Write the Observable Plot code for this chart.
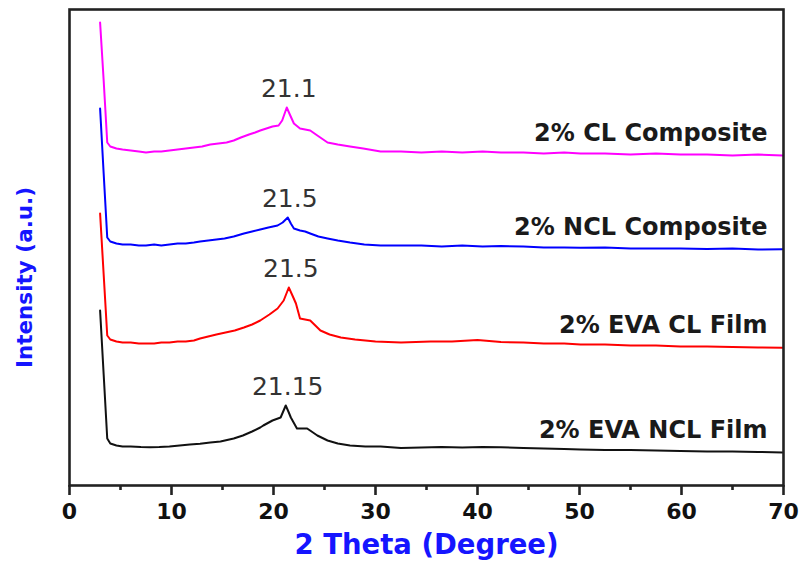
<!DOCTYPE html>
<html><head><meta charset="utf-8">
<script src="https://cdn.jsdelivr.net/npm/d3@7"></script>
<script src="https://cdn.jsdelivr.net/npm/@observablehq/plot@0.6"></script>
<style>body{margin:0;background:#fff}</style>
</head><body><div id="chart"></div>
<script>
const xTitle = "2 Theta (Degree)";
const yTitle = "Intensity (a.u.)";
const xTicksMajor = [0, 10, 20, 30, 40, 50, 60, 70];
const xTicksMinor = [5, 15, 25, 35, 45, 55, 65];

const seriesNames = ["2% EVA NCL Film", "2% EVA CL Film", "2% NCL Composite", "2% CL Composite"];
const seriesColors = ["#111111", "#ff0000", "#0000ff", "#ff00ff"];
const peakLabels = ["21.15", "21.5", "21.5", "21.1"];

const eclfTheta = [3.0,3.35,3.7,4.0,4.6,5.2,6.0,7.0,7.9,8.8,9.8,10.8,11.8,12.8,13.8,14.8,16.1,17.0,17.9,18.7,19.0,19.9,20.7,21.2,21.5,21.7,22.3,22.8,23.3,24.3,25.3,26.3,27.5,29,30.5,32.5,34.5,36.5,38.5,40.5,42.3,44.5,46.5,48.5,50.1,52.5,55,57.5,59.9,62.5,65,67.5,69.9];
const eclfI = [175,111,47,42,40,39,39,38.5,38.3,38.5,39,40,41,41.7,43,44,47,50,54,58,60,65,68,80,73,68,57,57,57,50,45,42,40,39,39,37.5,38,38.5,38,38.5,38.3,37.5,37,36.5,36,35.5,35.5,35,34.5,34,34,33.5,33];

const eclTheta = [3.0,3.35,3.7,4.0,4.6,5.2,6.0,6.8,7.5,8.3,9.0,9.8,10.6,11.4,12.2,12.8,13.6,14.4,15.3,16.2,17.1,17.9,18.7,19.6,20.4,21.0,21.5,21.9,22.2,22.6,23.1,23.6,24.1,24.6,25.5,26.6,28,30,32.5,35.4,37.5,40.0,42.3,44.5,46.5,48.5,50.1,52.5,55,57.5,59.9,62.5,65,67.5,69.9];
const eclI = [272,211,150,146,144,143,143,142,142,142,143,143,144,144,145,147,149,151,153,155,158,161,165,171,177,185,198,189,182,167,166,165,160,155,151,148,146,144,143,144,144,145.5,143.5,143,142,142,141,141,140,140,139,139,138.5,138,137.7];

const nclcTheta = [3.0,3.35,3.7,4.0,4.6,5.2,6.0,6.8,7.5,8.3,9.0,9.8,10.6,11.4,12.2,12.8,13.6,14.4,15.2,16.1,17.1,17.9,18.7,19.5,20.4,20.9,21.4,21.7,22.0,22.6,23.1,23.6,24.4,25.3,26.3,27.5,28.9,30.5,32.5,34.5,36.5,38.5,40.5,42.3,44.5,46.5,48.5,50.1,52.5,55,57.5,59.9,62.5,65,67.5,69.9];
const nclcI = [377,312,248,244,242,241,241,240,240,241,240,241,242,242,243,244,245,246,247,249,252,254,256,258,260,263,268,262,257,255,254,252,249,247,245,243,241,240,240,240,239,240,239,239.5,239,238,238,237.7,238,237,237,237,236.5,237,236,236.3];

const clcTheta = [3.0,3.35,3.7,4.0,4.6,5.2,6.0,6.8,7.5,8.3,9.0,9.8,10.6,11.4,12.2,13.0,13.8,14.6,15.4,16.1,16.8,17.6,18.2,18.7,19.3,19.9,20.5,20.85,21.3,21.6,22.0,22.6,23.1,23.6,24.3,25.3,26.3,27.5,28.8,30.5,32.5,34.5,36.5,38.5,40.5,42.3,44.5,46.5,48.5,50.1,52.5,55,57.5,59.9,62.5,65,67.5,69.9];
const clcI = [463,405,343,339,337,336,335,334,333,334,334,335,336,337,338,339,341,342,343,345,348,351,353,355,357,359,360,365,378,371,362,357,356,355,350,343,341,339,337,334,334,333,334,333,334,333,333,332,333,332,332,331,332,331,331,330,331,330];

const thetas = [eclfTheta, eclTheta, nclcTheta, clcTheta];
const intens = [eclfI, eclI, nclcI, clcI];

const rows = [];
const peaks = [];
const ends = [];
seriesNames.forEach((name, s) => {
  const th = thetas[s], iv = intens[s];
  let best = -1;
  th.forEach((t, i) => {
    rows.push({series: name, theta: t, intensity: iv[i]});
    if (t > 15 && t < 30 && (best < 0 || iv[i] > iv[best])) best = i;
  });
  peaks.push({series: name, theta: th[best], intensity: iv[best], label: peakLabels[s]});
  ends.push({series: name, theta: th[th.length - 1], intensity: iv[iv.length - 1]});
});

const chart = Plot.plot({
  width: 800,
  height: 562,
  marginLeft: 69,
  marginRight: 17,
  marginTop: 9,
  marginBottom: 77,
  style: {fontFamily: "'DejaVu Sans', sans-serif", background: "#fff"},
  x: {domain: [0, 70]},
  y: {domain: [0, 476], axis: null},
  color: {domain: seriesNames, range: seriesColors},
  marks: [
    Plot.line(rows, {x: "theta", y: "intensity", z: "series", stroke: "series", strokeWidth: 2, curve: "linear"}),
    Plot.frame({stroke: "#222", strokeWidth: 2.6}),
    Plot.axisX({ticks: xTicksMajor, tickSize: 10, tickPadding: 8, tickFormat: d => String(d), fontSize: 22, fontWeight: "bold", fill: "#111", stroke: "#222", strokeWidth: 2.6, label: null}),
    Plot.axisX({ticks: xTicksMinor, tickSize: 5, tickFormat: null, text: null, stroke: "#222", strokeWidth: 2.6, label: null}),
    Plot.text(peaks, {x: "theta", y: "intensity", text: "label", dy: -19, dx: 2, fontSize: 25, fill: "#333", textAnchor: "middle", lineAnchor: "middle"}),
    Plot.text(ends, {x: 70, y: "intensity", text: "series", dx: -16, dy: -22, textAnchor: "end", lineAnchor: "middle", fontSize: 24, fontWeight: "bold", fill: "#1a1a1a", letterSpacing: "1.1px"}),
    Plot.text([xTitle], {frameAnchor: "bottom", dx: 0, dy: 60, textAnchor: "middle", fontSize: 27.5, fontWeight: "bold", fill: "#1515ff", lineAnchor: "middle"}),
    Plot.text([yTitle], {frameAnchor: "left", dx: -44, dy: 30, rotate: -90, textAnchor: "middle", fontSize: 21.5, fontWeight: "bold", fill: "#1515ff", lineAnchor: "middle"})
  ]
});
document.getElementById("chart").appendChild(chart);
</script>
</body></html>
